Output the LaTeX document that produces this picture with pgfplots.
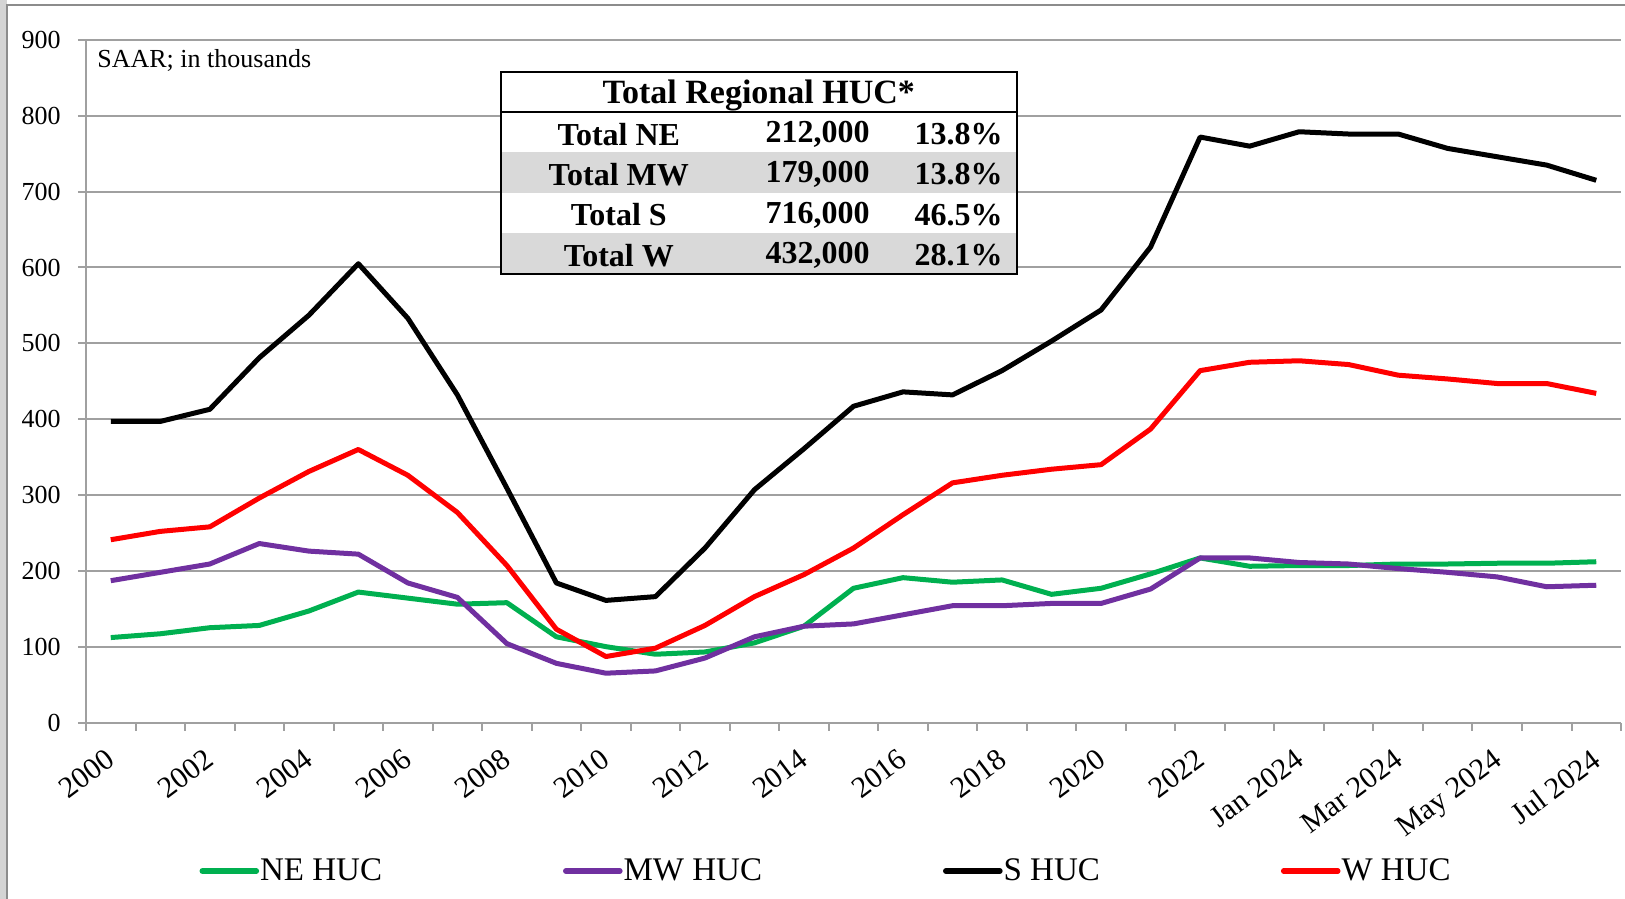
\documentclass[border=0pt]{standalone}
\usepackage{fontspec}
\setmainfont{Liberation Serif}
\usepackage{pgfplots}
\pgfplotsset{compat=1.18}
\definecolor{negreen}{HTML}{00B050}
\definecolor{mwpurple}{HTML}{7030A0}
\definecolor{wred}{HTML}{FF0000}
\definecolor{gridgray}{HTML}{A0A0A0}
\definecolor{rowgray}{HTML}{D9D9D9}
\definecolor{framegray}{HTML}{8C8C8C}
\definecolor{bggray}{HTML}{D4D4D4}
\begin{document}
\begin{tikzpicture}
\useasboundingbox (-43pt,-88pt) rectangle (769.5pt,361.25pt);
\fill[bggray] (-43pt,-88pt) rectangle (-39.5pt,361.25pt);
\draw[framegray, line width=0.8pt] (-39.5pt,-90pt) -- (-39.5pt,358.75pt) -- (780pt,358.75pt);
\begin{axis}[
  scale only axis, width=767.5pt, height=341.25pt,
  xmin=-0.5, xmax=30.5, ymin=0, ymax=900,
  axis lines=left,
  axis line style={draw=gridgray, line width=1pt, -},
  ytick={0,100,...,900},
  ymajorgrids, grid style={gridgray, line width=1pt},
  tick align=outside, major tick length=4pt,
  tick style={gridgray, line width=1pt},
  xtick={-0.5,0.5,...,30.5}, xticklabels={},
  extra x ticks={0,2,...,30},
  extra x tick labels={2000,2002,2004,2006,2008,2010,2012,2014,2016,2018,2020,2022,Jan 2024,Mar 2024,May 2024,Jul 2024},
  extra x tick style={major tick length=0pt,
    xticklabel style={xshift=-3pt, yshift=-12.3pt, rotate=37, anchor=north east, inner sep=0pt,
      font=\fontsize{15}{15}\selectfont}},
  /pgf/number format/assume math mode=true,
  yticklabel style={font=\fontsize{13}{13}\selectfont, anchor=east, inner sep=0pt, xshift=-8.5pt},
  legend columns=4,
  legend style={at={(axis description cs:0.4818,-0.2176)}, anchor=center, draw=none, fill=none,
    font=\fontsize{16.5}{18}\selectfont,
    nodes={inner xsep=0.5pt, inner ysep=1pt},
    /tikz/every even column/.append style={column sep=90pt}},
  legend image code/.code={\draw[#1, line width=2.8pt, line cap=round] (0pt,0pt) -- (27pt,0pt);},
  every axis plot/.append style={line width=2.5pt, line join=round},
  clip=false,
]
\addplot[negreen] coordinates {
(0,112) (1,117) (2,125) (3,128) (4,147) (5,172) (6,164) (7,156) (8,158) (9,113)
(10,100) (11,90) (12,93) (13,105) (14,127) (15,177) (16,191) (17,185) (18,188) (19,169)
(20,177) (21,196) (22,217) (23,206) (24,207) (25,207) (26,209) (27,209) (28,210) (29,210) (30,212)};
\addlegendentry{NE HUC}
\addplot[mwpurple] coordinates {
(0,187) (1,198) (2,209) (3,236) (4,226) (5,222) (6,184) (7,165) (8,104) (9,78)
(10,65) (11,68) (12,85) (13,113) (14,127) (15,130) (16,142) (17,154) (18,154) (19,157)
(20,157) (21,176) (22,217) (23,217) (24,211) (25,209) (26,203) (27,198) (28,192) (29,179) (30,181)};
\addlegendentry{MW HUC}
\addplot[black] coordinates {
(0,397) (1,397) (2,413) (3,481) (4,537) (5,605) (6,533) (7,432) (8,309) (9,184)
(10,161) (11,166) (12,230) (13,307) (14,361) (15,417) (16,436) (17,432) (18,464) (19,503)
(20,544) (21,627) (22,772) (23,760) (24,779) (25,776) (26,776) (27,757) (28,746) (29,735) (30,715)};
\addlegendentry{S HUC}
\addplot[wred] coordinates {
(0,241) (1,252) (2,258) (3,296) (4,331) (5,360) (6,326) (7,277) (8,207) (9,123)
(10,87) (11,98) (12,128) (13,166) (14,195) (15,230) (16,274) (17,316) (18,326) (19,334)
(20,340) (21,387) (22,464) (23,475) (24,477) (25,472) (26,458) (27,453) (28,447) (29,447) (30,434)};
\addlegendentry{W HUC}
\end{axis}
% SAAR note
\node[anchor=west, inner sep=0pt, font=\fontsize{13}{13}\selectfont] at (5.5pt,331.25pt) {SAAR; in thousands};
% table
\fill[white] (207.3pt,224.45pt) rectangle (465.4pt,325pt);
\fill[rowgray] (207.3pt,264.85pt) rectangle (465.4pt,285.05pt);
\fill[rowgray] (207.3pt,224.45pt) rectangle (465.4pt,244.65pt);
\draw[black, line width=1pt] (207.3pt,224.45pt) rectangle (465.4pt,325pt);
\draw[black, line width=1pt] (207.3pt,305.25pt) -- (465.4pt,305.25pt);
\node[font=\bfseries\fontsize{17}{17}\selectfont, inner sep=0pt] at (336.35pt,313.6pt) {Total Regional HUC*};
\begin{scope}[every node/.style={font=\bfseries\fontsize{16}{16}\selectfont, inner sep=0pt}]
\node at (266.4pt,294.2pt) {Total NE};
\node at (266.4pt,274pt) {Total MW};
\node at (266.4pt,253.8pt) {Total S};
\node at (266.4pt,233.6pt) {Total W};
\node[anchor=east] at (392pt,294.2pt) {212,000};
\node[anchor=east] at (392pt,274pt) {179,000};
\node[anchor=east] at (392pt,253.8pt) {716,000};
\node[anchor=east] at (392pt,233.6pt) {432,000};
\node[anchor=east] at (458.5pt,294.2pt) {13.8\%};
\node[anchor=east] at (458.5pt,274pt) {13.8\%};
\node[anchor=east] at (458.5pt,253.8pt) {46.5\%};
\node[anchor=east] at (458.5pt,233.6pt) {28.1\%};
\end{scope}
\end{tikzpicture}
\end{document}
